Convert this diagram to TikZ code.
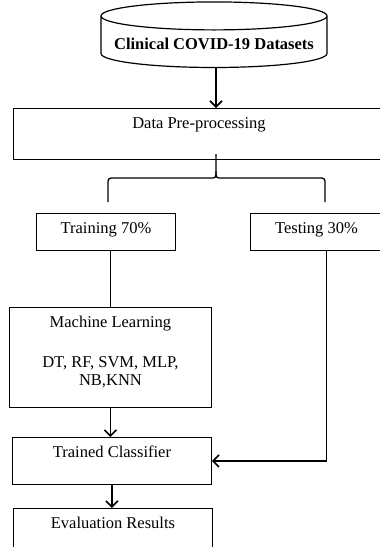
\documentclass[tikz,border=0pt]{standalone}
\usepackage{fontspec}
\setmainfont{Liberation Serif}
\usetikzlibrary{shapes.geometric}
\usetikzlibrary{arrows.meta}

\begin{document}
\begin{tikzpicture}[x=1pt, y=-1pt,
		every node/.append style={font=\fontsize{16.5}{18}\selectfont},
		box/.style={draw, line width=0.9pt, inner xsep=0pt, inner ysep=8pt, text height=12pt, anchor=north west},
		arrow/.style={line width=1.6pt, -{Straight Barb[length=6pt,width=12pt]}},
		link/.style={line width=1.6pt},
		bracket/.style={line width=1.3pt}]
		\useasboundingbox (0,0) rectangle (380,547);
		% data source
		\node[cylinder, draw, line width=1.2pt, shape border rotate=90, aspect=0.14, minimum width=226pt, minimum height=62pt, inner sep=0pt, text height=19pt, text depth=4pt, font=\fontsize{16.5}{18}\selectfont\bfseries] (data) at (214,42) {Clinical COVID-19 Datasets};
		\node[box, minimum width=371pt, text depth=23pt] (prep) at (13,108) {Data Pre-processing};
		% split
		\node[box, minimum width=139pt, text depth=9pt] (train) at (36,213) {Training 70\%};
		\node[box, minimum width=132pt, text depth=9pt] (test) at (250,213) {Testing 30\%};
		\node[box, minimum width=202pt, text height=70pt, text depth=14pt, align=center] (ml) at (9,307) {Machine Learning\\[22pt]DT, RF, SVM, MLP,\\NB,KNN};
		\node[box, minimum width=199pt, text depth=19pt] (tc) at (12,437) {Trained Classifier};
		\node[box, minimum width=199pt, text depth=24pt] (eval) at (13,508) {Evaluation Results};
		\coordinate (tip) at (216,154);
		\coordinate (brL) at (108,202);
		\coordinate (brR) at (325,202);
		\draw[arrow] ([xshift=2pt]data.south) -- ([xshift=2pt]data.south |- prep.north);
		\draw[bracket] (tip) -- (216,171) .. controls (216,178) .. (210,178) -- (115,178) .. controls (108,178) .. (108,185) -- (brL);
		\draw[bracket] (216,171) .. controls (216,178) .. (222,178) -- (318,178) .. controls (325,178) .. (325,185) -- (brR);
		\draw[link] (ml.north |- train.south) -- (ml.north);
		\draw[arrow] (ml.south) -- (ml.south |- tc.north);
		\draw[arrow] (tc.south) -- (tc.south |- eval.north);
		\draw[arrow] ([xshift=10pt]test.south) |- (tc.east);
	\end{tikzpicture}
\end{document}
